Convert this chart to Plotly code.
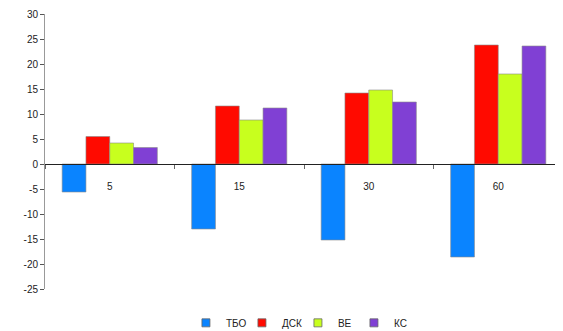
import plotly.graph_objects as go

categories = ["5", "15", "30", "60"]
series_names = ["ТБО", "ДСК", "ВЕ", "КС"]
tbo = [-5.6, -13.0, -15.2, -18.6]
dsk = [5.5, 11.6, 14.2, 23.8]
ve = [4.2, 8.8, 14.8, 18.0]
ks = [3.3, 11.2, 12.4, 23.6]
colors = ["#0a84ff", "#ff0a00", "#c8ff1e", "#8040d4"]
y_ticks = list(range(-25, 31, 5))

fig = go.Figure()
for name, vals, col in zip(series_names, [tbo, dsk, ve, ks], colors):
    fig.add_trace(go.Bar(
        x=categories, y=vals, name=name, showlegend=False,
        marker=dict(color=col, line=dict(color="#8a8a8a", width=0.6)),
    ))
# legend entries with small square symbols
for name, col in zip(series_names, colors):
    fig.add_trace(go.Scatter(
        x=[None], y=[None], mode="markers", name=name,
        marker=dict(symbol="square", size=8, color=col,
                    line=dict(color="#666", width=0.8)),
    ))

zero_pos = (0 - (-25)) / (30 - (-25))
fig.update_layout(
    width=563, height=331,
    margin=dict(l=37, r=8, t=6, b=50),
    paper_bgcolor="white", plot_bgcolor="white",
    barmode="group", bargap=0.265, bargroupgap=0,
    font=dict(family="Liberation Sans, Arial, sans-serif", size=10, color="#222"),
    showlegend=True,
    legend=dict(orientation="h", xref="container", x=0.515, xanchor="center",
                yref="container", y=0.005, yanchor="bottom",
                font=dict(size=10), itemwidth=30, tracegroupgap=0,
                entrywidth=11, entrywidthmode="pixels"),
    xaxis=dict(
        type="category", anchor="free", position=zero_pos, automargin=False,
        showline=True, linecolor="#222", linewidth=1,
        ticks="outside", tickson="boundaries", ticklen=4, tickcolor="#666",
        ticklabelstandoff=13, showgrid=False, zeroline=False,
        tickfont=dict(size=10, color="#222"),
    ),
    yaxis=dict(
        range=[-25, 30], tickvals=y_ticks, ticktext=[str(v) for v in y_ticks],
        automargin=False,
        showline=True, linecolor="#999", linewidth=1,
        ticks="outside", ticklen=4, tickcolor="#555",
        showgrid=False, zeroline=False,
        tickfont=dict(size=10, color="#222"),
    ),
)

fig.write_html("out.html")
